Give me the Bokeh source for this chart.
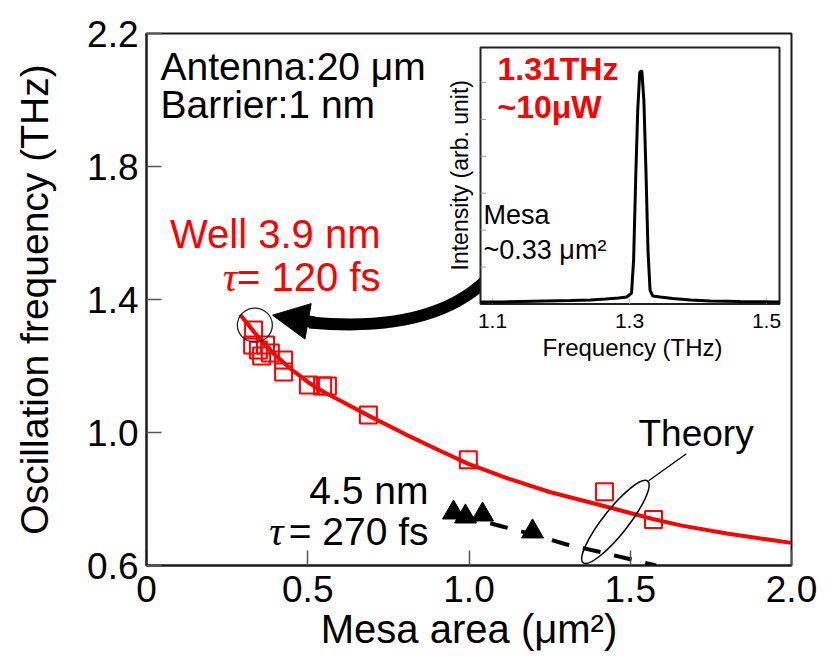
from bokeh.plotting import figure
from bokeh.models import Range1d, FixedTicker, Label, Arrow, NormalHead
from bokeh.core.properties import value
from bokeh.embed import file_html
from bokeh.resources import INLINE
import math

# ---------------- data ----------------
# Well 3.9 nm, measured (open red squares)
well39_area = [0.332, 0.329, 0.347, 0.369, 0.384, 0.357, 0.425, 0.425, 0.502, 0.546, 0.561,
               0.688, 0.998, 1.420, 1.572]
well39_freq = [1.308, 1.263, 1.248, 1.263, 1.239, 1.230, 1.218, 1.182, 1.143, 1.140, 1.140,
               1.053, 0.918, 0.822, 0.738]
# Well 3.9 nm, theory (red line)
theory39_area = [0.29, 0.35, 0.40, 0.45, 0.50, 0.55, 0.60, 0.69, 0.80, 0.91, 1.00, 1.12,
                 1.25, 1.43, 1.57, 1.66, 1.80, 2.00]
theory39_freq = [1.355, 1.283, 1.232, 1.189, 1.152, 1.122, 1.096, 1.050, 0.996, 0.945, 0.905,
                 0.862, 0.821, 0.776, 0.740, 0.720, 0.696, 0.668]
# Well 4.5 nm, measured (black triangles)
well45_area = [0.952, 0.989, 1.042, 1.197]
well45_freq = [0.759, 0.747, 0.753, 0.702]
# Well 4.5 nm, theory (dashed black)
theory45_area = [0.97, 1.10, 1.20, 1.30, 1.40, 1.50, 1.58]
theory45_freq = [0.752, 0.718, 0.693, 0.664, 0.642, 0.619, 0.600]

# inset spectrum
spectrum_freq = [1.0825, 1.112, 1.141, 1.177, 1.214, 1.243, 1.265, 1.284, 1.296, 1.303,
                 1.306, 1.309, 1.312, 1.315, 1.318, 1.321, 1.324, 1.327, 1.330, 1.334,
                 1.345, 1.363, 1.389, 1.418, 1.462, 1.519]
spectrum_int = [0.054, 0.054, 0.068, 0.081, 0.095, 0.108, 0.135, 0.162, 0.189, 0.297,
                1.19, 3.35, 5.24, 6.27, 6.32, 5.51, 3.62, 1.46, 0.378, 0.216,
                0.189, 0.149, 0.108, 0.081, 0.068, 0.054]

x_ticks = [0, 0.5, 1.0, 1.5, 2.0]
x_tick_labels = ["0", "0.5", "1.0", "1.5", "2.0"]
y_ticks = [0.6, 1.0, 1.4, 1.8, 2.2]
y_tick_labels = ["0.6", "1.0", "1.4", "1.8", "2.2"]
inset_x_ticks = [1.1, 1.3, 1.5]
inset_x_tick_labels = ["1.1", "1.3", "1.5"]
inset_y_ticks = [1, 2, 3, 4, 5, 6]

FONT = "Liberation Sans"
RED = "#ff0000"

# ---------------- main figure ----------------
p = figure(width=827, height=653, x_range=Range1d(0, 2.0), y_range=Range1d(0.6, 2.2),
           output_backend="svg", toolbar_location=None,
           min_border_left=146, min_border_right=36, min_border_top=33, min_border_bottom=87,
           background_fill_color="white", border_fill_color="white")
p.grid.visible = False
p.outline_line_color = "#1a1a1a"
p.outline_line_width = 2

for ax in (p.xaxis[0], p.yaxis[0]):
    ax.major_tick_in = 15
    ax.major_tick_out = 0
    ax.minor_tick_in = 0
    ax.minor_tick_out = 0
    ax.major_tick_line_color = "#555555"
    ax.major_tick_line_width = 1.5
    ax.axis_line_color = "#1a1a1a"
    ax.axis_line_width = 2
    ax.major_label_text_font = FONT
    ax.major_label_text_font_size = "37px"
    ax.major_label_text_color = "black"
    ax.axis_label_text_font = FONT
    ax.axis_label_text_font_style = "normal"
    ax.axis_label_text_color = "black"

p.xaxis.axis_label_text_font_size = "40px"
p.yaxis.axis_label_text_font_size = "39px"
p.xaxis.ticker = FixedTicker(ticks=x_ticks)
p.xaxis.major_label_overrides = {t: s for t, s in zip(x_ticks, x_tick_labels)}
p.yaxis.ticker = FixedTicker(ticks=y_ticks)
p.yaxis.major_label_overrides = {t: s for t, s in zip(y_ticks, y_tick_labels)}
p.xaxis.axis_label = "Mesa area (\u03bcm\u00b2)"
p.yaxis.axis_label = "Oscillation frequency (THz)"
p.xaxis.major_label_standoff = 10
p.xaxis.axis_label_standoff = 2
p.yaxis.major_label_standoff = 8
p.yaxis.axis_label_standoff = 28

# theory curve and data
p.line(theory39_area, theory39_freq, line_color=RED, line_width=4)
p.scatter(well39_area, well39_freq, marker="square", size=17, fill_color=None,
          line_color=RED, line_width=2)
p.line(theory45_area, theory45_freq, line_color="black", line_width=4, line_dash="18 14")
p.scatter(well45_area, well45_freq, marker="triangle", size=22, fill_color="black",
          line_color="black")

# circle around first point, theory ellipse and leader
p.ellipse(x=[0.336], y=[1.323], width=35, height=34, width_units="screen",
          height_units="screen", fill_color=None, line_color="#222222", line_width=1.3)
p.ellipse(x=[1.454], y=[0.731], width=104, height=25, width_units="screen",
          height_units="screen", angle=math.radians(51.7), fill_color=None,
          line_color="black", line_width=1.5)
p.segment(x0=[1.557], y0=[0.855], x1=[1.674], y1=[0.936], line_color="black", line_width=1.3)

# thick curved arrow from inset to the circled point
p.quadratic(x0=[0.505], y0=[1.331], x1=[1.07], y1=[1.475], cx=[0.90], cy=[1.295],
            line_color="black", line_width=12)
p.add_layout(Arrow(end=NormalHead(size=36, fill_color="black", line_color="black", line_width=1),
                   x_start=0.52, y_start=1.331, x_end=0.391, y_end=1.353,
                   line_color="black", line_width=12))

# texts
def lab(x, y, text, size="38px", color="black", align="left", font=FONT, style="normal"):
    p.add_layout(Label(x=x, y=y, text=text, text_font=font, text_font_size=size,
                       text_color=color, text_align=align, text_baseline="alphabetic",
                       text_font_style=style))

lab(0.0434, 2.101, "Antenna:20 \u03bcm", size="39px")
lab(0.0434, 1.987, "Barrier:1 nm", size="39px")
lab(0.7256, 1.597, "Well 3.9 nm", size="40px", color=RED, align="right")
lab(0.7256, 1.468, "= 120 fs", size="40px", color=RED, align="right")
lab(0.282, 1.468, "\u03c4", size="41px", color=RED, align="right", font="Liberation Serif", style="italic")
lab(0.8744, 0.825, "4.5 nm", size="39px", align="right")
lab(0.8744, 0.702, "= 270 fs", size="39px", align="right")
lab(0.425, 0.702, "\u03c4", size="40px", align="right", font="Liberation Serif", style="italic")
lab(1.5256, 0.997, "Theory", size="37px")

# ---------------- inset (sub-coordinates) ----------------
ix0, ix1 = 1.0825, 1.519
iy0, iy1 = 0.0, 6.946
inset = p.subplot(x_source=Range1d(ix0, ix1), y_source=Range1d(iy0, iy1),
                  x_target=Range1d(1.0357, 1.9628), y_target=Range1d(1.3865, 2.158))

inset.quad(left=[ix0], right=[ix1], bottom=[iy0], top=[iy1], fill_color="white",
           line_color="#222222", line_width=2)
inset.segment(x0=[ix0] * len(inset_y_ticks), y0=inset_y_ticks,
              x1=[ix0 + 0.008] * len(inset_y_ticks), y1=inset_y_ticks,
              line_color="#999999", line_width=1)
inset.segment(x0=inset_x_ticks, y0=[iy0] * 3, x1=inset_x_ticks, y1=[0.15] * 3,
              line_color="#bbbbbb", line_width=1)
inset.line(spectrum_freq, spectrum_int, line_color="black", line_width=3)

inset.text(x=inset_x_ticks, y=[-0.46] * 3, text=inset_x_tick_labels, text_align="center",
           text_baseline="alphabetic", text_font=value(FONT), text_font_size=value("21px"),
           text_color="black")
inset.text(x=[1.3044], y=[-1.17], text=["Frequency (THz)"], text_align="center",
           text_baseline="alphabetic", text_font=value(FONT), text_font_size=value("24px"),
           text_color="black")
inset.text(x=[1.0525], y=[3.486], text=["Intensity (arb. unit)"], angle=math.pi / 2,
           text_align="center", text_baseline="alphabetic", text_font=value(FONT),
           text_font_size=value("23px"), text_color="black")
inset.text(x=[1.1073, 1.1073], y=[6.37, 5.343], text=["1.31THz", "~10\u03bcW"],
           text_align="left", text_baseline="alphabetic", text_font=value(FONT),
           text_font_size=value("32px"), text_font_style="bold", text_color=RED)
inset.text(x=[1.0869, 1.0869], y=[2.421, 1.475], text=["Mesa", "~0.33 \u03bcm\u00b2"],
           text_align="left", text_baseline="alphabetic", text_font=value(FONT),
           text_font_size=value("27px"), text_color="black")

open("out.html", "w").write(file_html(p, INLINE))
